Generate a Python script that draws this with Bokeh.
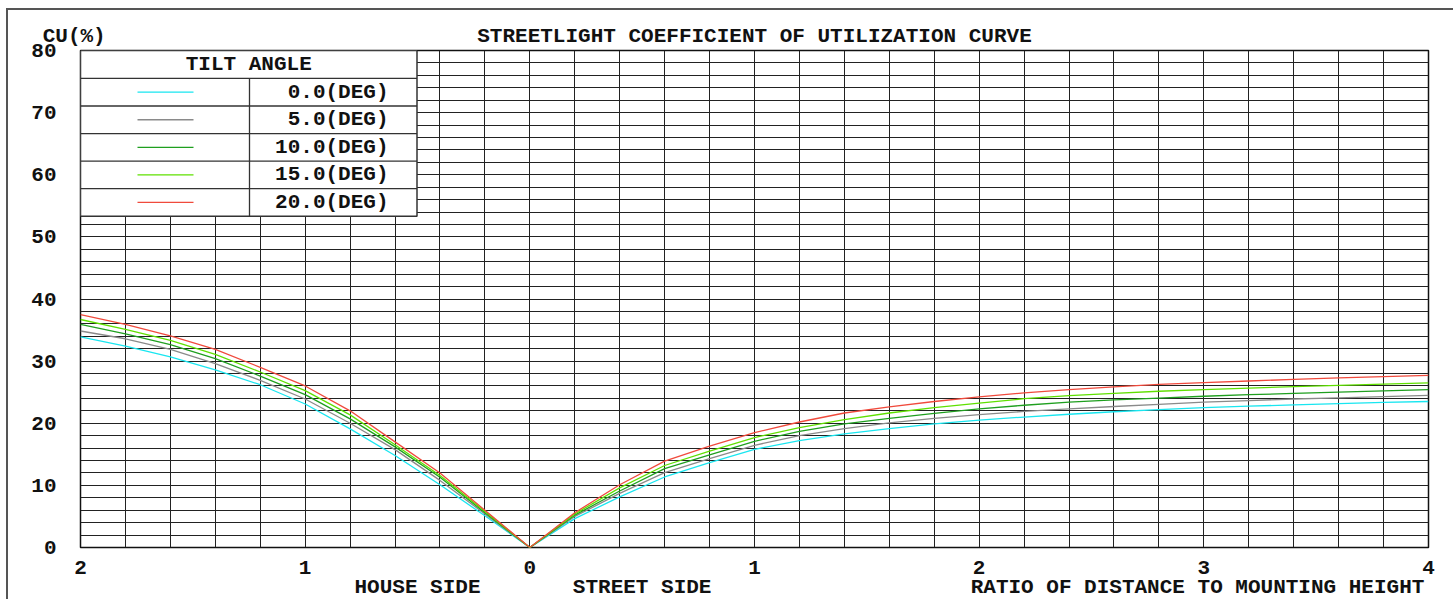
from bokeh.plotting import figure
from bokeh.models import Range1d, FixedTicker, Label, LinearAxis
from bokeh.embed import file_html
from bokeh.resources import INLINE

# ---------------- data ----------------
house_dist = [0, 0.2, 0.4, 0.6, 0.8, 1.0, 1.2, 1.4, 1.6, 1.8, 2.0]
street_dist = [0, 0.2, 0.4, 0.6, 0.8, 1.0, 1.2, 1.4, 1.6, 1.8, 2.0,
               2.2, 2.4, 2.6, 2.8, 3.0, 3.2, 3.4, 3.6, 3.8, 4.0]

house_tilt0 = [0, 5.1, 10.1, 14.8, 19.1, 23.1, 26.2, 28.6, 30.7, 32.4, 33.9]
house_tilt5 = [0, 5.4, 10.8, 15.75, 20.0, 23.9, 26.9, 29.6, 31.9, 33.6, 34.85]
house_tilt10 = [0, 5.6, 11.3, 16.2, 20.7, 24.6, 27.6, 30.4, 32.65, 34.4, 35.9]
house_tilt15 = [0, 5.8, 11.6, 16.55, 21.35, 25.25, 28.25, 31.1, 33.35, 35.1, 36.7]
house_tilt20 = [0, 6.0, 12.0, 17.0, 22.0, 26.0, 29.0, 31.9, 34.05, 35.9, 37.5]

street_tilt0 = [0, 4.65, 8.15, 11.35, 13.65, 15.8, 17.2, 18.3, 19.15, 19.9, 20.5,
                21.0, 21.45, 21.85, 22.2, 22.5, 22.75, 22.95, 23.15, 23.35, 23.5]
street_tilt5 = [0, 5.0, 8.7, 12.05, 14.3, 16.45, 18.0, 19.15, 20.05, 20.8, 21.4,
                21.9, 22.3, 22.7, 23.05, 23.4, 23.65, 23.9, 24.1, 24.3, 24.5]
street_tilt10 = [0, 5.2, 9.1, 12.7, 14.9, 17.1, 18.7, 19.9, 20.8, 21.6, 22.3,
                 22.9, 23.4, 23.75, 24.05, 24.35, 24.6, 24.8, 25.0, 25.2, 25.4]
street_tilt15 = [0, 5.4, 9.6, 13.2, 15.5, 17.7, 19.3, 20.6, 21.65, 22.5, 23.25,
                 23.95, 24.45, 24.8, 25.15, 25.4, 25.65, 25.9, 26.1, 26.3, 26.5]
street_tilt20 = [0, 5.6, 10.1, 13.9, 16.3, 18.5, 20.2, 21.65, 22.65, 23.5, 24.25,
                 24.9, 25.4, 25.85, 26.25, 26.55, 26.8, 27.05, 27.3, 27.5, 27.7]

tilt_labels = ["0.0(DEG)", "5.0(DEG)", "10.0(DEG)", "15.0(DEG)", "20.0(DEG)"]
tilt_colors = ["#19e6f0", "#8a8a8a", "#1f9f1f", "#5fe000", "#f04a3c"]

x_tick_values = [-2, -1, 0, 1, 2, 3, 4]
x_tick_labels = ["2", "1", "0", "1", "2", "3", "4"]
y_tick_values = [0, 10, 20, 30, 40, 50, 60, 70, 80]
side_label_pos = [-0.5, 0.5]
side_labels = ["HOUSE SIDE", "STREET SIDE"]
ratio_label = "RATIO OF DISTANCE TO MOUNTING HEIGHT"
title_text = "STREETLIGHT COEFFICIENT OF UTILIZATION CURVE"
y_title = "CU(%)"

house_series = [house_tilt0, house_tilt5, house_tilt10, house_tilt15, house_tilt20]
street_series = [street_tilt0, street_tilt5, street_tilt10, street_tilt15, street_tilt20]

# ---------------- figure ----------------
FONT = "Liberation Mono"
p = figure(width=1447, height=591,
           x_range=Range1d(-2, 4), y_range=Range1d(0, 80),
           output_backend="svg", toolbar_location=None,
           min_border_left=72, min_border_right=27,
           min_border_top=40, min_border_bottom=53)
p.styles = {"margin-left": "6px", "margin-top": "8px",
            "border-left": "2px solid #555555", "border-top": "2px solid #555555"}
p.background_fill_color = "white"
p.border_fill_color = "white"
p.outline_line_color = "#111111"
p.outline_line_width = 1.5

def style_axis(ax, size="21px"):
    ax.axis_line_color = None
    ax.major_tick_line_color = None
    ax.minor_tick_line_color = None
    ax.major_tick_out = 0
    ax.major_tick_in = 0
    ax.minor_tick_out = 0
    ax.minor_tick_in = 0
    ax.major_label_text_font = FONT
    ax.major_label_text_font_style = "bold"
    ax.major_label_text_font_size = size
    ax.major_label_text_color = "#111111"

# y axis tick labels
yax = p.yaxis[0]
yax.ticker = FixedTicker(ticks=y_tick_values)
style_axis(yax)
yax.major_label_standoff = 24

# x axis: tick numbers plus the side captions on a second text line
xax = p.xaxis[0]
x_overrides = {v: t for v, t in zip(x_tick_values, x_tick_labels)}
for v, t in zip(side_label_pos, side_labels):
    x_overrides[v] = "\n" + t
x_overrides[3] = "3\n" + ratio_label + "\u00a0"
xax.ticker = FixedTicker(ticks=sorted(list(x_overrides.keys())))
xax.major_label_overrides = x_overrides
style_axis(xax)
xax.major_label_text_line_height = 0.84
xax.major_label_standoff = 9

# top axis carrying the chart title and the y caption
top_ax = LinearAxis()
top_ax.ticker = FixedTicker(ticks=[-2, 1])
top_ax.major_label_overrides = {-2: y_title + "\u00a0", 1: title_text}
style_axis(top_ax)
top_ax.major_label_standoff = 3
p.add_layout(top_ax, "above")

# grid
p.xgrid.ticker = FixedTicker(ticks=[-2 + 0.2 * i for i in range(31)])
p.ygrid.ticker = FixedTicker(ticks=list(range(0, 81, 2)))
for g in (p.xgrid, p.ygrid):
    g.grid_line_color = "#222222"
    g.grid_line_width = 1
    g.grid_line_alpha = 1.0

# curves
for hs, ss, col in zip(house_series, street_series, tilt_colors):
    xs = [-d for d in reversed(house_dist)] + street_dist[1:]
    ys = list(reversed(hs)) + ss[1:]
    p.line(xs, ys, line_color=col, line_width=1.3)

# ---------------- legend table ----------------
FW, FH = 1348, 498
xpp = 6.0 / FW
ypp = 80.0 / FH
lg_left, lg_right = -2.0, -2.0 + 336.5 * xpp
lg_div = -2.0 + 169 * xpp
lg_top = 80.0
head_h = 28 * ypp
row_h = 27.6 * ypp
lg_bottom = lg_top - head_h - 5 * row_h
p.quad(left=[lg_left], right=[lg_right], top=[lg_top], bottom=[lg_bottom],
       fill_color="white", line_color="#333333", line_width=1.5)
row_tops = [lg_top - head_h - i * row_h for i in range(5)]
p.segment(x0=[lg_left] * 5, x1=[lg_right] * 5, y0=row_tops, y1=row_tops,
          line_color="#333333", line_width=1.3)
p.segment(x0=[lg_div], x1=[lg_div], y0=[row_tops[0]], y1=[lg_bottom],
          line_color="#333333", line_width=1.3)
row_mid = [t - row_h / 2 for t in row_tops]
seg_x0 = -2.0 + 57 * xpp
seg_x1 = -2.0 + 113 * xpp
p.segment(x0=[seg_x0] * 5, x1=[seg_x1] * 5, y0=row_mid, y1=row_mid,
          line_color=tilt_colors, line_width=1.3)

def lab(x, y, text, align="center", size="21px"):
    p.add_layout(Label(x=x, y=y, text=text,
                       text_font=FONT, text_font_style="bold",
                       text_font_size=size, text_color="#111111",
                       text_align=align, text_baseline="middle"))

lab((lg_left + lg_right) / 2, lg_top - head_h / 2, "TILT ANGLE")
for m, t in zip(row_mid, tilt_labels):
    lab(-2.0 + 308 * xpp, m, t, align="right")

open("out.html", "w").write(file_html(p, INLINE))
